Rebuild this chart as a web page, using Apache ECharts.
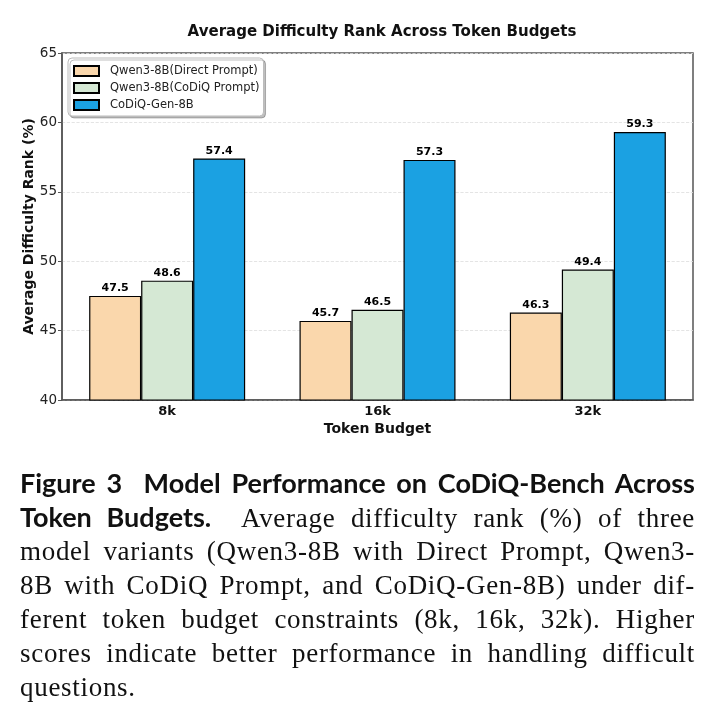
<!DOCTYPE html>
<html>
<head>
<meta charset="utf-8">
<script src="https://cdn.jsdelivr.net/npm/echarts@6/dist/echarts.min.js"></script>
<style>
  html, body { margin: 0; padding: 0; background: #fff; }
  #wrap { position: relative; width: 717px; height: 711px; }
  #chart { position: absolute; left: 0; top: 0; width: 717px; height: 711px; }
  .cap { position: absolute; left: 20px; width: 675px; height: 34px; line-height: 34px;
         white-space: nowrap; text-align: justify; text-align-last: justify; color: #111; }
  .serif { font-family: "Liberation Serif", serif; font-size: 27px; letter-spacing: 0.7px; }
  .sans { font-family: "Lato", "Noto Sans", sans-serif; font-weight: bold; font-size: 27px; letter-spacing: 0; }
  .last { text-align-last: left; }
</style>
</head>
<body>
<div id="wrap">
  <div id="chart"></div>
  <div class="cap sans" style="top:466px">Figure 3&nbsp; Model Performance on CoDiQ-Bench Across</div>
  <div class="cap serif" style="top:500px"><span class="sans">Token Budgets.</span>&nbsp; Average difficulty rank (%) of three</div>
  <div class="cap serif" style="top:534px">model variants (Qwen3-8B with Direct Prompt, Qwen3-</div>
  <div class="cap serif" style="top:568px">8B with CoDiQ Prompt, and CoDiQ-Gen-8B) under dif-</div>
  <div class="cap serif" style="top:602px">ferent token budget constraints (8k, 16k, 32k). Higher</div>
  <div class="cap serif" style="top:636px">scores indicate better performance in handling difficult</div>
  <div class="cap serif last" style="top:670px">questions.</div>
</div>
<script>
// data
const budgets = ['8k', '16k', '32k'];
const seriesNames = ['Qwen3-8B(Direct Prompt)', 'Qwen3-8B(CoDiQ Prompt)', 'CoDiQ-Gen-8B'];
const directPrompt = [47.5, 45.7, 46.3];
const codiqPrompt = [48.6, 46.5, 49.4];
const codiqGen = [57.4, 57.3, 59.3];
const colors = ['#FAD7AC', '#D5E8D4', '#1BA1E2'];

const font = 'DejaVu Sans';
const allData = [directPrompt, codiqPrompt, codiqGen];

let chart = echarts.init(document.getElementById('chart'));
chart.setOption({
  animation: false,
  textStyle: { fontFamily: font },
  title: {
    text: 'Average Difficulty Rank Across Token Budgets',
    left: 377, top: 20, textAlign: 'center',
    textStyle: { fontFamily: font, fontSize: 15, fontWeight: 'bold', color: '#111' }
  },
  legend: {
    orient: 'vertical',
    left: 68, top: 58,
    data: seriesNames,
    icon: 'rect',
    itemWidth: 25, itemHeight: 10, itemGap: 5,
    padding: [7, 4, 5, 5],
    backgroundColor: '#fff',
    borderColor: '#bbb', borderWidth: 1, borderRadius: 4,
    shadowColor: 'rgba(0,0,0,0.25)', shadowOffsetX: 2, shadowOffsetY: 2,
    textStyle: { fontFamily: font, fontSize: 11.5, color: '#222', padding: [0, 0, 0, 6] }
  },
  grid: {
    left: 62, right: 24, top: 53, bottom: 311,
    show: true, borderColor: '#555', borderWidth: 1.5
  },
  xAxis: {
    type: 'category',
    data: budgets,
    name: 'Token Budget',
    nameLocation: 'middle',
    nameGap: 22,
    nameMoveOverlap: false,
    nameTextStyle: { fontFamily: font, fontSize: 14, fontWeight: 'bold', color: '#111' },
    axisLine: { lineStyle: { color: '#555', width: 1.5 } },
    axisTick: { alignWithLabel: true, length: 4, lineStyle: { color: '#555' } },
    axisLabel: { fontFamily: font, fontSize: 13, fontWeight: 'bold', color: '#111', margin: 5 }
  },
  yAxis: {
    type: 'value',
    min: 40, max: 65, interval: 5,
    name: 'Average Difficulty Rank (%)',
    nameLocation: 'middle',
    nameGap: 26,
    nameMoveOverlap: false,
    nameTextStyle: { fontFamily: font, fontSize: 14, fontWeight: 'bold', color: '#111' },
    axisLine: { show: true, lineStyle: { color: '#555', width: 1.5 } },
    axisTick: { show: true, length: 4, lineStyle: { color: '#555' } },
    axisLabel: { fontFamily: font, fontSize: 13.5, color: '#222', margin: 5 },
    splitLine: { lineStyle: { color: '#ddd', type: 'dashed', width: 0.8 } }
  },
  series: seriesNames.map((name, i) => ({
    name: name,
    type: 'bar',
    data: allData[i],
    barWidth: 52,
    barGap: '0%',
    itemStyle: { color: colors[i], borderColor: '#000', borderWidth: 1.2 },
    label: {
      show: true, position: 'top', distance: 2,
      formatter: p => p.value.toFixed(1),
      fontFamily: font, fontSize: 11, fontWeight: 'bold', color: '#000'
    }
  }))
});
</script>
</body>
</html>
